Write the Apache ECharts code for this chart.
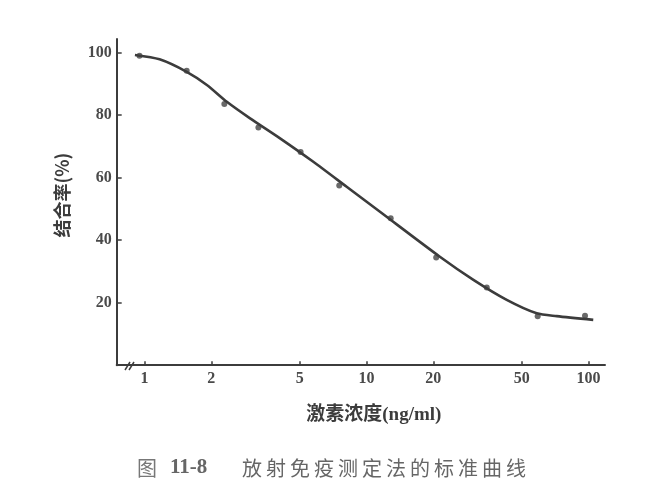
<!DOCTYPE html>
<html>
<head>
<meta charset="utf-8">
<script src="https://cdn.jsdelivr.net/npm/echarts@6/dist/echarts.min.js"></script>
<style>html,body{margin:0;padding:0;background:#fff;}#c{width:658px;height:485px;}</style>
</head>
<body>
<div id="c"></div>
<script>
// measured points (concentration ng/ml, binding %)
const pointX = [0.95, 1.55, 2.29, 3.26, 5.05, 7.54, 12.85, 20.6, 34.8, 59.0, 96.4];
const pointY = [99.0, 94.2, 83.6, 76.1, 68.2, 57.5, 47.0, 34.5, 24.9, 15.7, 15.8];
// fitted standard curve
const curveX = [0.906, 1.17, 1.55, 1.91, 2.35, 2.99, 4.08, 5.76, 8.14, 11.5, 21.4, 30.3, 42.8, 58.4, 71.9, 105];
const curveY = [99.3, 97.9, 93.9, 89.7, 84.3, 79.0, 72.6, 65.1, 57.1, 49.1, 34.7, 27.3, 20.9, 16.6, 15.7, 14.5];
// tick labels
const xTicks = [1, 2, 5, 10, 20, 50, 100];
const yTicks = [20, 40, 60, 80, 100];
const captionFig = '图';
const captionNum = '11-8';
const captionText = '放射免疫测定法的标准曲线';

const ink = '#3c3c3c';
const spaced = s => s.split('').map(ch => '{c|' + ch + '}').join('');
const chart = echarts.init(document.getElementById('c'), null, {renderer: 'canvas'});
chart.setOption({
  backgroundColor: '#fff',
  animation: false,
  title: [
    {text: captionFig, left: 132, top: 453,
     textStyle: {fontFamily: 'Noto Sans CJK SC', fontSize: 20, fontWeight: 'normal', color: '#777'}},
    {text: captionNum, left: 165, top: 452,
     textStyle: {fontFamily: 'Liberation Serif', fontSize: 21, fontWeight: 'bold', color: '#666'}},
    {text: spaced(captionText), left: 235, top: 453,
     textStyle: {fontFamily: 'Noto Sans CJK SC', fontSize: 20, fontWeight: 'normal', color: '#666',
       rich: {c: {fontFamily: 'Noto Sans CJK SC', fontSize: 20, fontWeight: 'normal', color: '#666', padding: [0, 2, 0, 2]}}}}
  ],
  grid: {left: 116.7, right: 53, top: 39, bottom: 119.8, containLabel: false},
  xAxis: {
    type: 'log', logBase: 10, min: 0.75, max: 118.6,
    name: '激素浓度(ng/ml)', nameLocation: 'middle', nameGap: 40,
    nameTextStyle: {fontFamily: 'Liberation Serif, Noto Sans CJK SC', fontSize: 19, fontWeight: 'bold', color: ink, padding: [0, 0, 0, 26]},
    axisLine: {lineStyle: {color: ink, width: 2}},
    axisTick: {show: true, inside: true, length: 4, customValues: xTicks, lineStyle: {color: ink, width: 1.5}},
    axisLabel: {customValues: xTicks, margin: 6, fontFamily: 'Liberation Serif', fontSize: 16, fontWeight: 'bold', color: '#4a4a4a'},
    splitLine: {show: false}, minorTick: {show: false}
  },
  yAxis: {
    type: 'value', min: 0, max: 104.4,
    name: '结合率(%)', nameLocation: 'middle', nameGap: 46,
    nameTextStyle: {fontFamily: 'Noto Sans CJK SC', fontSize: 18, fontWeight: 'bold', color: ink, padding: [0, 0, 0, 14]},
    axisLine: {show: true, lineStyle: {color: ink, width: 2}},
    axisTick: {show: true, inside: true, length: 5, customValues: yTicks, lineStyle: {color: ink, width: 1.5}},
    axisLabel: {customValues: yTicks, margin: 5, fontFamily: 'Liberation Serif', fontSize: 16, fontWeight: 'bold', color: '#4a4a4a'},
    splitLine: {show: false}
  },
  graphic: [
    {type: 'line', shape: {x1: 125, y1: 370, x2: 130, y2: 362}, style: {stroke: ink, lineWidth: 1.5}},
    {type: 'line', shape: {x1: 129, y1: 370, x2: 134, y2: 362}, style: {stroke: ink, lineWidth: 1.5}}
  ],
  series: [
    {
      type: 'line', smooth: 0.25, symbol: 'none',
      data: curveX.map((x, i) => [x, curveY[i]]),
      lineStyle: {color: ink, width: 2.6}
    },
    {
      type: 'scatter', symbol: 'circle', symbolSize: 6,
      data: pointX.map((x, i) => [x, pointY[i]]),
      itemStyle: {color: '#444'}
    }
  ]
});
</script>
</body>
</html>
